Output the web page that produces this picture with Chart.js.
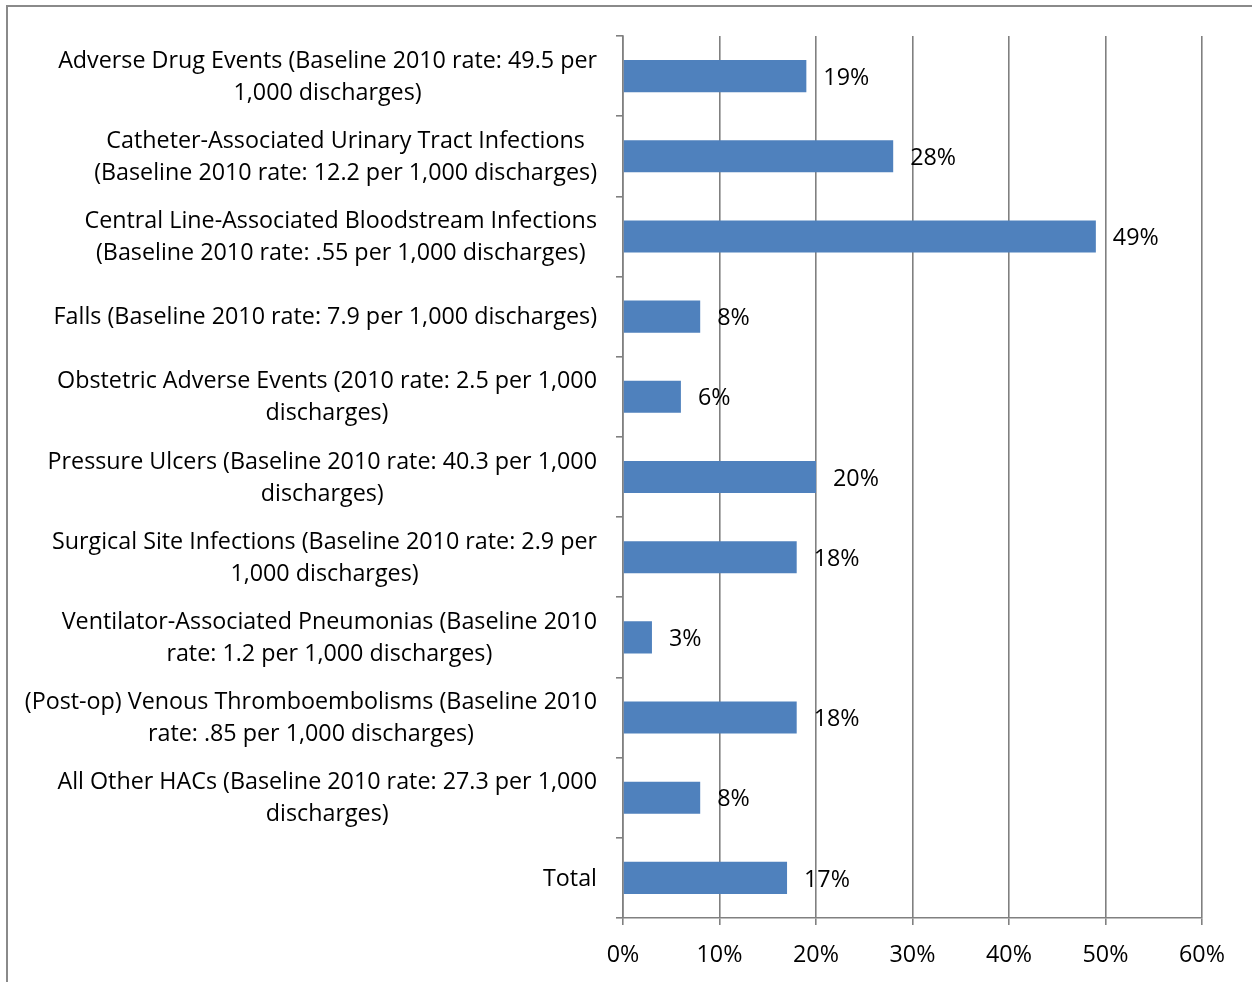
<!DOCTYPE html>
<html>
<head>
<meta charset="utf-8">
<script src="https://cdn.jsdelivr.net/npm/chart.js@4"></script>
<style>
    html, body { margin: 0; padding: 0; background: #fff; }
    #frame {
        position: absolute; left: 6px; top: 5px;
        width: 1400px; height: 1100px;
        border-left: 2px solid #8a8a8a; border-top: 2px solid #8a8a8a;
    }
    #wrap { position: absolute; left: 0; top: 0; width: 1252px; height: 982px; }
</style>
</head>
<body>
<div id="frame"></div>
<div id="wrap"><canvas id="myChart" width="1252" height="982"></canvas></div>
<script>
const categories = [
    ['Adverse Drug Events (Baseline 2010 rate: 49.5 per', '1,000 discharges)'],
    ['Catheter-Associated Urinary Tract Infections', '(Baseline 2010 rate: 12.2 per 1,000 discharges)'],
    ['Central Line-Associated Bloodstream Infections', '(Baseline 2010 rate: .55 per 1,000 discharges)'],
    ['Falls (Baseline 2010 rate: 7.9 per 1,000 discharges)'],
    ['Obstetric Adverse Events (2010 rate: 2.5 per 1,000', 'discharges)'],
    ['Pressure Ulcers (Baseline 2010 rate: 40.3 per 1,000', 'discharges)'],
    ['Surgical Site Infections (Baseline 2010 rate: 2.9 per', '1,000 discharges)'],
    ['Ventilator-Associated Pneumonias (Baseline 2010', 'rate: 1.2 per 1,000 discharges)'],
    ['(Post-op) Venous Thromboembolisms (Baseline 2010', 'rate: .85 per 1,000 discharges)'],
    ['All Other HACs (Baseline 2010 rate: 27.3 per 1,000', 'discharges)'],
    ['Total']
];
const reductions = [19, 28, 49, 8, 6, 20, 18, 3, 18, 8, 17];
const xTicks = [0, 10, 20, 30, 40, 50, 60];

const labelFont = { family: 'Open Sans', size: 23.3 };
const fontStr = labelFont.size + 'px "' + labelFont.family + '"';

// category labels: block right-aligned to the axis, lines centred inside it (Excel style)
const catLabels = {
    id: 'catLabels',
    afterDraw(chart) {
        const c = chart.ctx;
        const y = chart.scales.y;
        const right = y.right - 7 - 19;
        const lineH = 32;
        c.save();
        c.font = fontStr;
        c.fillStyle = '#000';
        c.textAlign = 'center';
        c.textBaseline = 'middle';
        categories.forEach((lines, i) => {
            const cy = y.getPixelForValue(i) + 1;
            const w = Math.max(...lines.map(l => c.measureText(l).width));
            const cx = right - w / 2;
            lines.forEach((l, j) => {
                c.fillText(l, cx, cy + (j - (lines.length - 1) / 2) * lineH);
            });
        });
        c.restore();
    }
};

// draws "19%" etc. just past the end of each bar
const barLabels = {
    id: 'barLabels',
    afterDatasetsDraw(chart) {
        const c = chart.ctx;
        const meta = chart.getDatasetMeta(0);
        c.save();
        c.font = fontStr;
        c.fillStyle = '#000';
        c.textAlign = 'left';
        c.textBaseline = 'middle';
        meta.data.forEach((bar, i) => {
            c.fillText(reductions[i] + '%', bar.x + 17, bar.y + 2);
        });
        c.restore();
    }
};

const ctx = document.getElementById('myChart');
new Chart(ctx, {
    type: 'bar',
    data: {
        labels: categories.map(l => l.join(' ')),
        datasets: [{
            data: reductions,
            backgroundColor: '#4F81BD',
            borderWidth: 0,
            barPercentage: 0.4,
            categoryPercentage: 1
        }]
    },
    options: {
        indexAxis: 'y',
        responsive: false,
        maintainAspectRatio: false,
        animation: false,
        layout: { padding: { left: 0, right: 50, top: 36, bottom: 0 } },
        scales: {
            x: {
                min: 0,
                max: 60,
                afterBuildTicks: s => { s.ticks = xTicks.map(v => ({ value: v })); },
                afterFit: s => { s.height = 64; },
                grid: { color: '#808080', lineWidth: 1.6, tickLength: 7 },
                border: { display: true, color: '#808080', width: 1.6 },
                ticks: {
                    color: '#000',
                    font: labelFont,
                    padding: 16,
                    callback: v => v + '%'
                }
            },
            y: {
                afterFit: s => { s.width = 623; s.paddingTop = 0; s.paddingBottom = 0; },
                grid: { drawOnChartArea: false, color: '#808080', lineWidth: 1.6, tickLength: 7 },
                border: { display: true, color: '#808080', width: 1.6 },
                ticks: { display: false, autoSkip: false }
            }
        },
        plugins: {
            legend: { display: false },
            tooltip: { enabled: false }
        }
    },
    plugins: [barLabels, catLabels]
});
</script>
</body>
</html>
